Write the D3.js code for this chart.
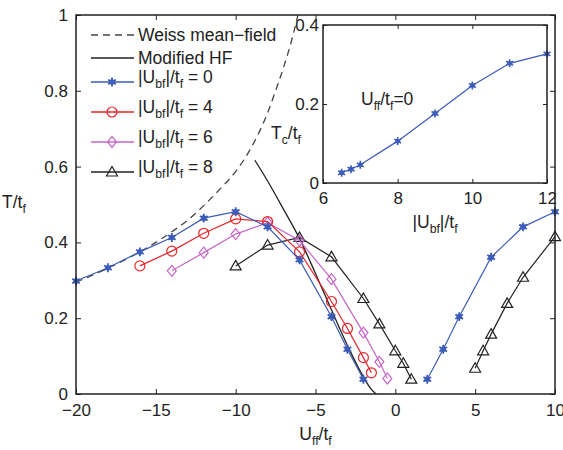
<html>
<meta charset="utf-8">
<style>
body { margin: 0; background: #fff; }
text { font-family: "Liberation Sans", Arial, sans-serif; fill: #222; }
.tick text { font-size: 17px; }
.tick line { stroke: #222; }
.domain { display: none; }
</style>
<body>
<script src="https://cdn.jsdelivr.net/npm/d3@7"></script>
<script>

// ---- data ----
var xTicks = [-20, -15, -10, -5, 0, 5, 10];
var yTicks = [0, 0.2, 0.4, 0.6, 0.8, 1];

var weiss = [[-20,0.295],[-18,0.332],[-16,0.375],[-15,0.40],[-14,0.428],[-13,0.459],[-12,0.497],
             [-11,0.54],[-10,0.587],[-9,0.652],[-8,0.742],[-7.5,0.80],[-7,0.862],[-6.5,0.932],[-6.1,1.0]];
var hf = [[-8.8,0.617],[-8,0.562],[-7,0.487],[-6,0.41],[-5,0.318],[-4,0.222],[-3,0.128],
          [-2,0.045],[-1.5,0.012],[-1.2,0]];

var ubf0_left  = [[-20,0.298],[-18,0.333],[-16,0.375],[-14,0.413],[-12,0.464],[-10,0.481],
                  [-8,0.441],[-6,0.354],[-4,0.204],[-3,0.118],[-2,0.039]];
var ubf0_right = [[2,0.039],[3,0.118],[4,0.204],[6,0.361],[8,0.441],[10,0.481]];
var ubf4 = [[-16,0.338],[-14,0.377],[-12,0.424],[-10,0.462],[-8,0.455],[-6,0.375],
            [-4,0.244],[-3,0.173],[-2,0.096],[-1.5,0.056]];
var ubf6 = [[-14,0.325],[-12,0.373],[-10,0.422],[-8,0.452],[-6,0.405],[-4,0.303],
            [-2,0.162],[-1,0.085],[-0.5,0.041]];
var ubf8_left  = [[-10,0.338],[-8,0.393],[-6,0.413],[-4,0.362],[-2,0.252],[-1,0.185],
                  [0,0.114],[0.5,0.081],[1,0.039]];
var ubf8_right = [[5,0.068],[5.5,0.114],[6,0.158],[7,0.239],[8,0.308],[10,0.415]];

// inset: Tc vs |Ubf| at Uff=0
var insetX = [6.5, 6.75, 7, 8, 9, 10, 11, 12];
var insetTc = [0.026, 0.035, 0.046, 0.106, 0.176, 0.247, 0.303, 0.327];
var insetXTicks = [6, 8, 10, 12];
var insetYTicks = [0, 0.2, 0.4];

var blue = '#3b5cb8', red = '#e8262a', magenta = '#c865c8', black = '#222';

/*******************
layout
********************/
var width = 563, height = 450;
var L = 76, R = 555, T = 15, B = 394;
var iL = 323, iR = 547, iT = 25, iB = 183;
var fs = 17.5;

var svg = d3.select("body").append("svg")
    .attr("width", width).attr("height", height);

var x = d3.scaleLinear().domain([-20, 10]).range([L, R]);
var y = d3.scaleLinear().domain([0, 1]).range([B, T]);

svg.append("clipPath").attr("id", "clip")
  .append("rect").attr("x", L).attr("y", T).attr("width", R - L).attr("height", B - T);

var plain = function(d){ return d; };

// axes with inward ticks on all four sides
svg.append("g").attr("transform", "translate(0," + B + ")")
   .call(d3.axisBottom(x).tickValues(xTicks).tickSizeInner(-5).tickSizeOuter(0).tickPadding(10)
         .tickFormat(function(d){ return d < 0 ? "\u2212" + (-d) : d; }));
svg.append("g").attr("transform", "translate(0," + T + ")")
   .call(d3.axisTop(x).tickValues(xTicks).tickSizeInner(-5).tickSizeOuter(0).tickFormat(""));
svg.append("g").attr("transform", "translate(" + L + ",0)")
   .call(d3.axisLeft(y).tickValues(yTicks).tickSizeInner(-5).tickSizeOuter(0).tickPadding(8)
         .tickFormat(plain));
svg.append("g").attr("transform", "translate(" + R + ",0)")
   .call(d3.axisRight(y).tickValues(yTicks).tickSizeInner(-5).tickSizeOuter(0).tickFormat(""));

var plot = svg.append("g").attr("clip-path", "url(#clip)");
var smooth = d3.line().x(function(d){ return x(d[0]); }).y(function(d){ return y(d[1]); })
    .curve(d3.curveMonotoneX);

plot.append("path").datum(weiss)
    .attr("d", smooth)
    .attr("fill", "none").attr("stroke", "#444").attr("stroke-width", 1.3)
    .attr("stroke-dasharray", "7,5");
plot.append("path").datum(hf)
    .attr("d", smooth)
    .attr("fill", "none").attr("stroke", black).attr("stroke-width", 1.3);

// marker painters
function starMark(g, c) {
  g.append("path").attr("d", d3.symbol(d3.symbolAsterisk, 55)())
   .attr("fill", "none").attr("stroke", c).attr("stroke-width", 1.8);
  g.append("circle").attr("r", 2.8).attr("fill", c);
}
function circleMark(g, c) {
  g.append("circle").attr("r", 5).attr("fill", "none").attr("stroke", c).attr("stroke-width", 1.2);
}
function diamondMark(g, c) {
  g.append("path").attr("d", "M0,-5.5L4.5,0L0,5.5L-4.5,0Z")
   .attr("fill", "none").attr("stroke", c).attr("stroke-width", 1.2);
}
function triMark(g, c) {
  g.append("path").attr("d", "M0,-5.5L5.5,4L-5.5,4Z")
   .attr("fill", "none").attr("stroke", c).attr("stroke-width", 1.2);
}

function series(data, c, mark, sx, sy) {
  sx = sx || x; sy = sy || y;
  var g = svg.append("g");
  g.append("path").datum(data)
   .attr("d", d3.line().x(function(d){ return sx(d[0]); }).y(function(d){ return sy(d[1]); }))
   .attr("fill", "none").attr("stroke", c).attr("stroke-width", 1.2);
  g.selectAll("g.m").data(data).enter().append("g").attr("class", "m")
   .attr("transform", function(d){ return "translate(" + sx(d[0]) + "," + sy(d[1]) + ")"; })
   .each(function(){ mark(d3.select(this), c); });
}

series(ubf8_left, black, triMark);
series(ubf8_right, black, triMark);
series(ubf6, magenta, diamondMark);
series(ubf4, red, circleMark);
series(ubf0_left, blue, starMark);
series(ubf0_right, blue, starMark);

// frame
svg.append("rect").attr("x", L).attr("y", T).attr("width", R - L).attr("height", B - T)
   .attr("fill", "none").attr("stroke", "#222").attr("stroke-width", 1.5);

// labels with subscripts
function label(sel, parts, size) {
  parts.forEach(function(p){
    var t = sel.append("tspan").text(p[0]);
    if (p[1] == 'sub') t.attr("font-size", size * 0.7).attr("dy", size * 0.3);
    else if (p[1] == 'up') t.attr("dy", -size * 0.3);
  });
}
var xl = svg.append("text").attr("x", (L + R) / 2).attr("y", 440).attr("text-anchor", "middle").attr("font-size", fs);
label(xl, [["U"], ["ff", "sub"], ["/t", "up"], ["f", "sub"]], fs);
var yl = svg.append("text").attr("x", 2).attr("y", 208).attr("font-size", fs);
label(yl, [["T/t"], ["f", "sub"]], fs);

// legend
var legY = [35, 58, 82, 112, 142, 172];
var legItems = [
  {txt: [["Weiss mean\u2212field"]], dash: "7,5", c: "#444"},
  {txt: [["Modified HF"]], c: black},
  {txt: [["|U"], ["bf", "sub"], ["|/t", "up"], ["f", "sub"], [" = 0", "up"]], c: blue, m: starMark},
  {txt: [["|U"], ["bf", "sub"], ["|/t", "up"], ["f", "sub"], [" = 4", "up"]], c: red, m: circleMark},
  {txt: [["|U"], ["bf", "sub"], ["|/t", "up"], ["f", "sub"], [" = 6", "up"]], c: magenta, m: diamondMark},
  {txt: [["|U"], ["bf", "sub"], ["|/t", "up"], ["f", "sub"], [" = 8", "up"]], c: black, m: triMark}
];
legItems.forEach(function(it, i){
  var yy = legY[i];
  svg.append("line").attr("x1", 91).attr("x2", 134).attr("y1", yy).attr("y2", yy)
     .attr("stroke", it.c).attr("stroke-width", 1.3).attr("stroke-dasharray", it.dash || null);
  if (it.m) { var g = svg.append("g").attr("transform", "translate(112," + yy + ")"); it.m(g, it.c); }
  var t = svg.append("text").attr("x", 138).attr("y", yy + (i < 2 ? 6 : 1)).attr("font-size", fs);
  label(t, it.txt, fs);
});

/********************
inset
********************/
var ix = d3.scaleLinear().domain([6, 12]).range([iL, iR]);
var iy = d3.scaleLinear().domain([0, 0.4]).range([iB, iT]);
svg.append("rect").attr("x", iL).attr("y", iT).attr("width", iR - iL).attr("height", iB - iT)
   .attr("fill", "#fff");
svg.append("g").attr("transform", "translate(0," + iB + ")")
   .call(d3.axisBottom(ix).tickValues(insetXTicks).tickSizeInner(-4).tickSizeOuter(0).tickPadding(9)
         .tickFormat(plain));
svg.append("g").attr("transform", "translate(0," + iT + ")")
   .call(d3.axisTop(ix).tickValues(insetXTicks).tickSizeInner(-4).tickSizeOuter(0).tickFormat(""));
svg.append("g").attr("transform", "translate(" + iL + ",0)")
   .call(d3.axisLeft(iy).tickValues(insetYTicks).tickSizeInner(-4).tickSizeOuter(0).tickPadding(4)
         .tickFormat(plain));
svg.append("g").attr("transform", "translate(" + iR + ",0)")
   .call(d3.axisRight(iy).tickValues(insetYTicks).tickSizeInner(-4).tickSizeOuter(0).tickFormat(""));

var insetData = insetX.map(function(v, i){ return [v, insetTc[i]]; });
series(insetData, blue, function(g, c){
  g.append("path").attr("d", d3.symbol(d3.symbolAsterisk, 45)())
   .attr("fill", "none").attr("stroke", c).attr("stroke-width", 1.6);
  g.append("circle").attr("r", 2.4).attr("fill", c);
}, ix, iy);

svg.append("rect").attr("x", iL).attr("y", iT).attr("width", iR - iL).attr("height", iB - iT)
   .attr("fill", "none").attr("stroke", "#222").attr("stroke-width", 1.5);

var ixl = svg.append("text").attr("x", (iL + iR) / 2).attr("y", 228).attr("text-anchor", "middle").attr("font-size", fs);
label(ixl, [["|U"], ["bf", "sub"], ["|/t", "up"], ["f", "sub"]], fs);
var iyl = svg.append("text").attr("x", 271).attr("y", 139).attr("font-size", fs);
label(iyl, [["T"], ["c", "sub"], ["/t", "up"], ["f", "sub"]], fs);
var itx = svg.append("text").attr("x", 361).attr("y", 105).attr("font-size", fs);
label(itx, [["U"], ["ff", "sub"], ["/t", "up"], ["f", "sub"], ["=0", "up"]], fs);

</script>
</body>
</html>
